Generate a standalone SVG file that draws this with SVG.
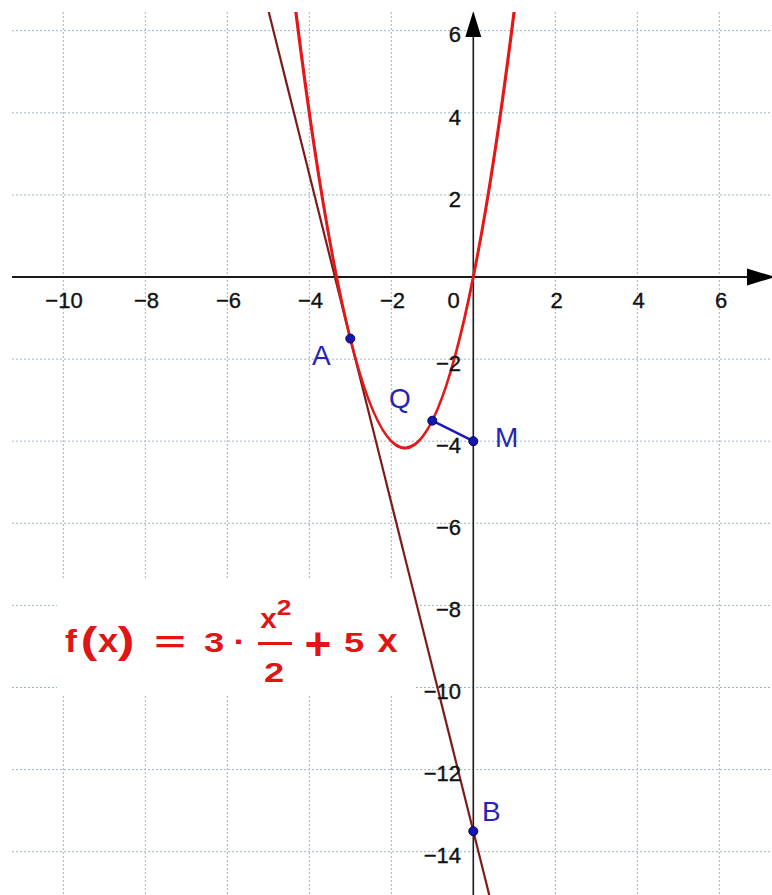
<svg xmlns="http://www.w3.org/2000/svg" width="772" height="895" viewBox="0 0 772 895">
<defs>
<clipPath id="plot"><rect x="12" y="12" width="760" height="883"/></clipPath>
<style>
.grid line{stroke:#9cb8c2;stroke-width:1;stroke-dasharray:2 2}
.tick{font-family:"Liberation Sans",Arial,sans-serif;font-size:22px;fill:#111;stroke:#111;stroke-width:0.35}
.xt{text-anchor:middle}
.yt{text-anchor:end}
.lbl{font-family:"Liberation Sans",Arial,sans-serif;font-size:28px;fill:#2424b8}
.pt{fill:#1515b0;stroke:#00005a;stroke-width:1}
.fm{font-family:"Liberation Sans",Arial,sans-serif;font-weight:bold;fill:#e01515;text-anchor:middle}
</style>
</defs>
<rect width="772" height="895" fill="#fff"/>
<g clip-path="url(#plot)">
<g id="grid" class="grid">
<line x1="63.3" y1="12" x2="63.3" y2="895"/>
<line x1="145.3" y1="12" x2="145.3" y2="895"/>
<line x1="227.3" y1="12" x2="227.3" y2="895"/>
<line x1="309.3" y1="12" x2="309.3" y2="895"/>
<line x1="391.3" y1="12" x2="391.3" y2="895"/>
<line x1="555.3" y1="12" x2="555.3" y2="895"/>
<line x1="637.3" y1="12" x2="637.3" y2="895"/>
<line x1="719.3" y1="12" x2="719.3" y2="895"/>
<line x1="12" y1="30.7" x2="772" y2="30.7"/>
<line x1="12" y1="112.8" x2="772" y2="112.8"/>
<line x1="12" y1="194.9" x2="772" y2="194.9"/>
<line x1="12" y1="359.1" x2="772" y2="359.1"/>
<line x1="12" y1="441.2" x2="772" y2="441.2"/>
<line x1="12" y1="523.3" x2="772" y2="523.3"/>
<line x1="12" y1="605.4" x2="772" y2="605.4"/>
<line x1="12" y1="687.5" x2="772" y2="687.5"/>
<line x1="12" y1="769.6" x2="772" y2="769.6"/>
<line x1="12" y1="851.7" x2="772" y2="851.7"/>
</g>
<rect id="formula-bg" x="57" y="580" width="358" height="114" fill="#fff"/>
<g id="axes">
<line x1="12" y1="277" x2="752" y2="277" stroke="#1a1a1a" stroke-width="1.8"/>
<line x1="473.3" y1="30" x2="473.3" y2="895" stroke="#1a1a1a" stroke-width="1.6"/>
<polygon points="747,268.5 747,285.5 775,277" fill="#000"/>
<polygon points="473.3,11 465.3,37 481.3,37" fill="#000"/>
</g>
<g id="connectors">
<path id="tangent" d="M243.7,-88.3 L497.9,929.7" stroke="#7e1a1a" stroke-width="2.2" fill="none"/>
<path id="parabola" d="M292.9,-12 Q405.65,913.7 518.4,-23.3" stroke="#e41818" stroke-width="3.2" fill="none"/>
<path id="QM" d="M432.3,420.7 L473.3,441.2" stroke="#1a1ab8" stroke-width="2.6" fill="none"/>
</g>
</g>
<g id="tick-labels">
<text class="tick xt" x="64" y="307.5">−10</text>
<text class="tick xt" x="146.5" y="307.5">−8</text>
<text class="tick xt" x="228.5" y="307.5">−6</text>
<text class="tick xt" x="310.5" y="307.5">−4</text>
<text class="tick xt" x="392.5" y="307.5">−2</text>
<text class="tick xt" x="453.5" y="307.5">0</text>
<text class="tick xt" x="556.5" y="307.5">2</text>
<text class="tick xt" x="638.5" y="307.5">4</text>
<text class="tick xt" x="721" y="307.5">6</text>
<text class="tick yt" x="461" y="42">6</text>
<text class="tick yt" x="461" y="124.5">4</text>
<text class="tick yt" x="461" y="206.5">2</text>
<text class="tick yt" x="461" y="371">−2</text>
<text class="tick yt" x="461" y="452.5">−4</text>
<text class="tick yt" x="461" y="535">−6</text>
<text class="tick yt" x="461" y="617">−8</text>
<text class="tick yt" x="461" y="699">−10</text>
<text class="tick yt" x="461" y="781">−12</text>
<text class="tick yt" x="461" y="863">−14</text>
</g>
<g id="point-A"><circle class="pt" cx="350.3" cy="338.6" r="4.5"/><text class="lbl" x="312" y="365">A</text></g>
<g id="point-Q"><circle class="pt" cx="432.3" cy="420.7" r="4.5"/><text class="lbl" x="389" y="408">Q</text></g>
<g id="point-M"><circle class="pt" cx="473.3" cy="441.2" r="4.5"/><text class="lbl" x="495" y="447">M</text></g>
<g id="point-B"><circle class="pt" cx="473.3" cy="831.2" r="4.5"/><text class="lbl" x="482" y="821">B</text></g>
<g id="formula">
<text class="fm" font-size="31" transform="translate(71,652) scale(1.15,1)">f</text>
<text class="fm" font-size="37" transform="translate(89,653) scale(1.35,1)">(</text>
<text class="fm" font-size="33" transform="translate(108,652) scale(1.1,1)">x</text>
<text class="fm" font-size="37" transform="translate(126,653) scale(1.35,1)">)</text>
<text class="fm" font-size="30" transform="translate(170,652) scale(1.8,1)">=</text>
<text class="fm" font-size="28" transform="translate(214,652) scale(1.3,1)">3</text>
<text class="fm" font-size="30" transform="translate(239.5,652) scale(1.2,1)">·</text>
<text class="fm" font-size="27" transform="translate(268.5,628) scale(1.1,1)">x</text>
<text class="fm" font-size="22" transform="translate(284,615) scale(1.2,1)">2</text>
<line x1="258" y1="643.5" x2="292" y2="643.5" stroke="#e01515" stroke-width="3"/>
<text class="fm" font-size="28" transform="translate(274,682) scale(1.3,1)">2</text>
<text class="fm" font-size="46" transform="translate(318,660)">+</text>
<text class="fm" font-size="28" transform="translate(354,652) scale(1.3,1)">5</text>
<text class="fm" font-size="33" transform="translate(387.5,652) scale(1.1,1)">x</text>
</g>
</svg>
